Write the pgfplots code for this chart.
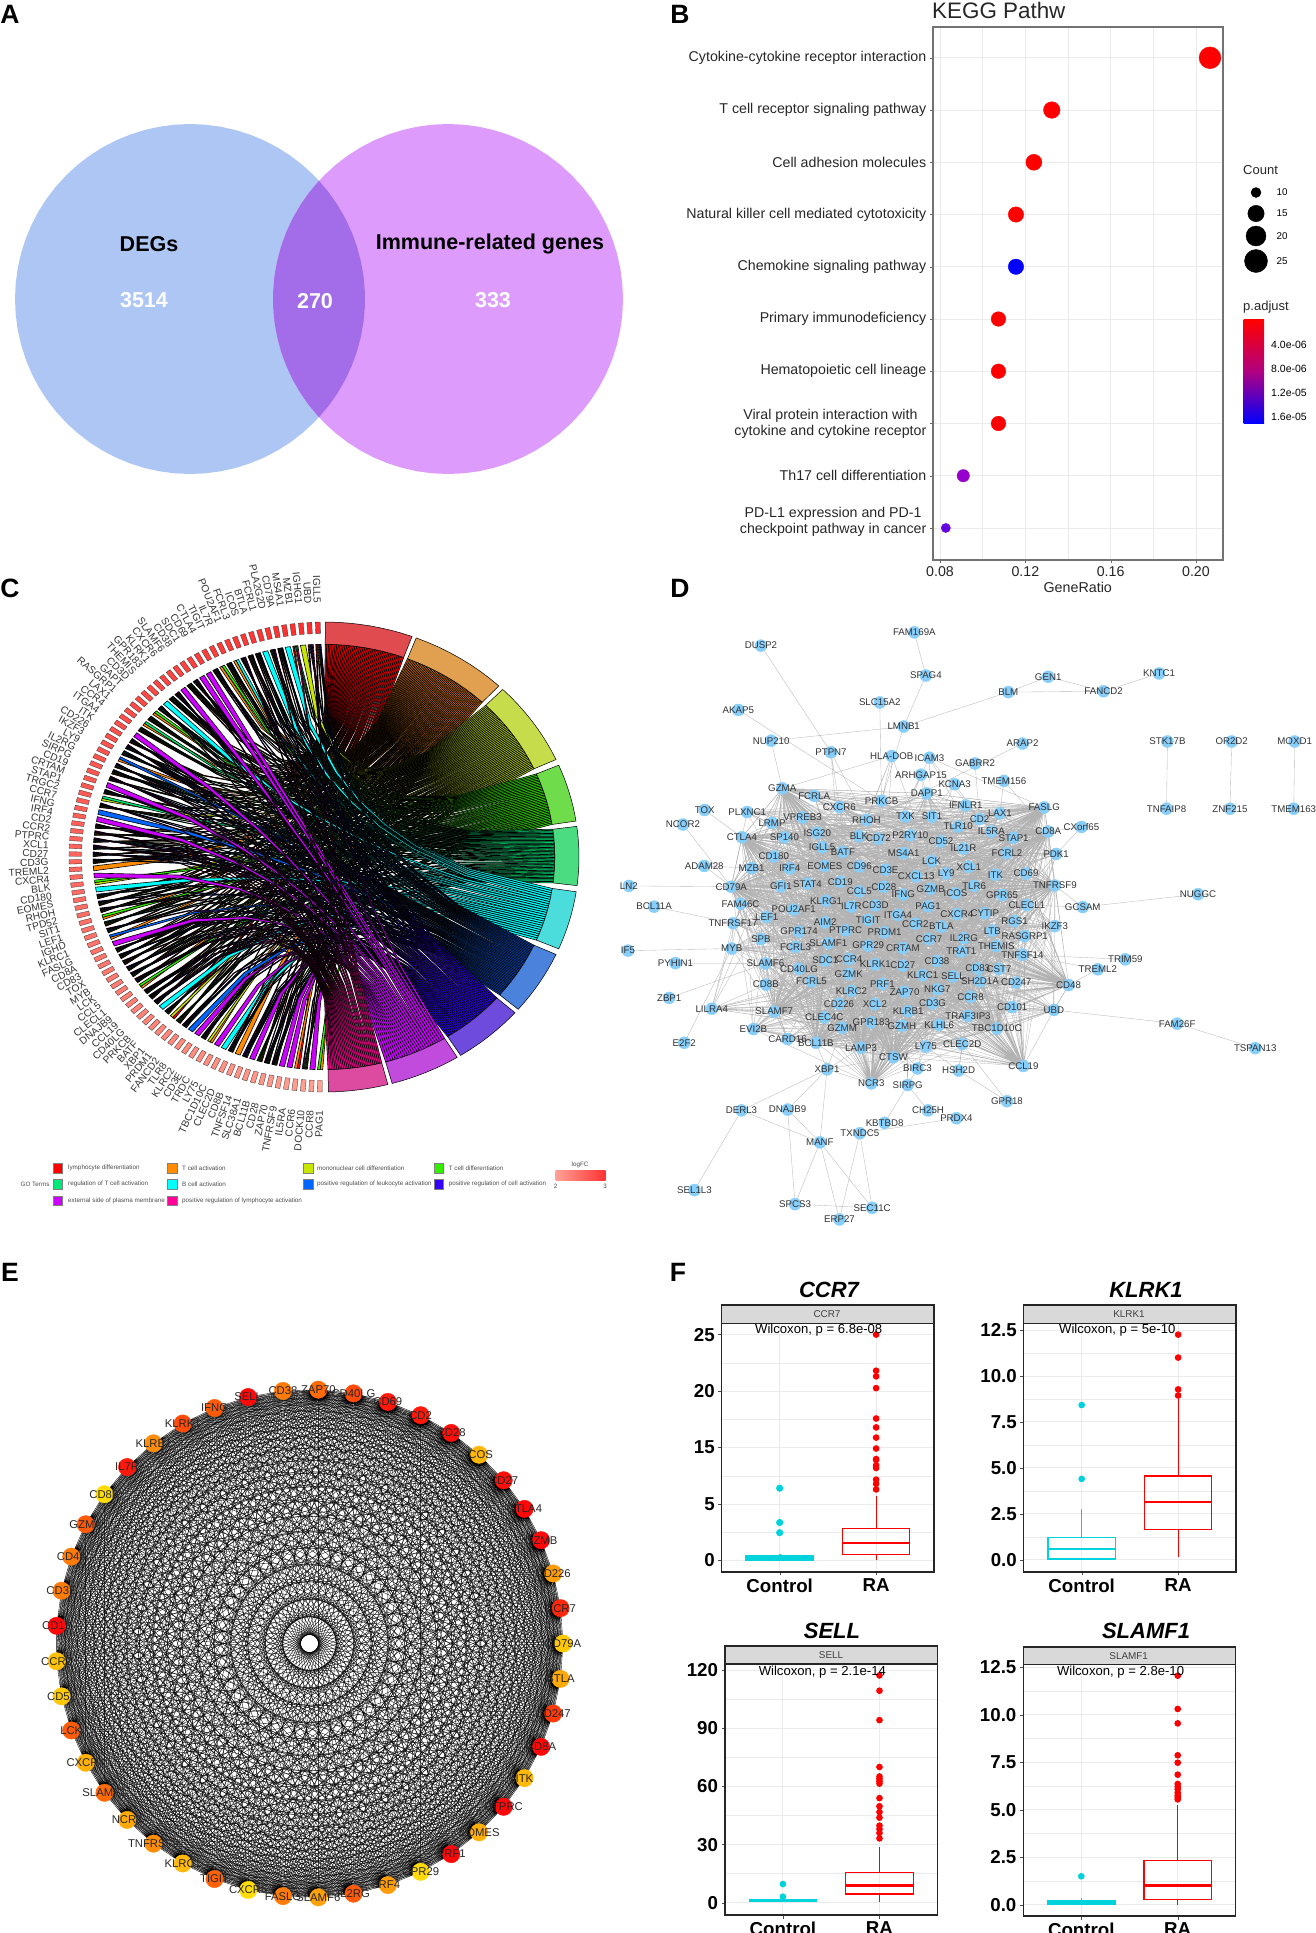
\documentclass[border=0pt]{standalone}
\usepackage{fontspec}
\setmainfont{Liberation Sans}
\usepackage{pgfplots}
\usepackage{pgfplotstable}
\pgfplotsset{compat=1.18}
\usepgfplotslibrary{statistics}

% panel C terms: ribbon colour and ring colour
\definecolor{tc1}{HTML}{FF0000}\definecolor{rc1}{HTML}{E04B4F}
\definecolor{tc2}{HTML}{FF8C00}\definecolor{rc2}{HTML}{E0A050}
\definecolor{tc3}{HTML}{C8E600}\definecolor{rc3}{HTML}{C6DC4B}
\definecolor{tc4}{HTML}{33EE00}\definecolor{rc4}{HTML}{6EDC4B}
\definecolor{tc5}{HTML}{00E87A}\definecolor{rc5}{HTML}{4BDC82}
\definecolor{tc6}{HTML}{00FFFF}\definecolor{rc6}{HTML}{4BDCDC}
\definecolor{tc7}{HTML}{0066FF}\definecolor{rc7}{HTML}{4B82DC}
\definecolor{tc8}{HTML}{3300FF}\definecolor{rc8}{HTML}{6E4BDC}
\definecolor{tc9}{HTML}{CC00FF}\definecolor{rc9}{HTML}{C04BDC}
\definecolor{tc10}{HTML}{FF0099}\definecolor{rc10}{HTML}{DC4BA0}
\definecolor{vennL}{HTML}{AEC6F4}
\definecolor{vennR}{HTML}{DD9CFB}
\definecolor{vennM}{HTML}{A36CE8}
\definecolor{netnode}{HTML}{87CEFA}
\definecolor{ggrid}{HTML}{EBEBEB}
\definecolor{ctrl}{HTML}{00D3DC}

\pgfplotstableread{
name
IGLL5
UBD
IGHG1
MZB1
MS4A1
CD79A
PLA2G2D
FCRL1
BTLA
ICOS
FCRL3
POU2AF1
IL7R
TIGIT
CTLA4
CD69
SDC1
CD38
SLAMF6
CXCR6
KLRK1
GPR183
THEMIS
CD3D
GAPT
RASGRP1
LAX1
CCR4
ITGA4
ITK
CD226
IKZF3
LY9
IL2RG
SIRPG
CD19
CRTAM
STAP1
TRGC2
CCR7
IFNG
IRF4
CD2
CCR2
PTPRC
XCL1
CD27
CD3G
TREML2
CXCR4
BLK
CD180
EOMES
RHOH
TPD52
SIT1
LEF1
IGHD
KLRC1
FASLG
CD8A
CD83
TOX
MYB
LCK
CCL5
CLECL1
DNAJB9
CCL19
CD40LG
PRKCB
BATF
XBP1
PRDM1
FANCD2
TLR8
KLRC2
CD3E
TRDC
LY75
TBC1D10C
CLEC2D
CD8B
TNFSF14
SLC38A1
BCL11B
CD28
ZAP70
TNFRSF9
IL5RA
CCR6
DOCK10
CCR8
PAG1
}\Cgenes

% panel E: gene, green channel of the node
\pgfplotstableread{
name g
ZAP70 105
CD40LG 75
CD69 25
CD2 25
CD28 15
ICOS 182
CD27 15
CTLA4 8
GZMB 8
CD226 155
CCR7 40
CD79A 200
BTLA 168
CD247 58
CD8A 8
ITK 184
PTPRC 8
EOMES 174
PRF1 8
GPR29 216
IRF4 155
IL2RG 90
SLAMF6 160
FASLG 122
CXCR6 220
TIGIT 96
KLRC1 184
TNFRSF9 140
NCR3 168
SLAMF1 106
CXCR4 176
LCK 90
CD52 200
CCR2 192
CD19 8
CD3E 122
CD48 122
GZMA 90
CD8B 220
IL7R 25
KLRB1 140
KLRK1 74
IFNG 90
SELL 8
CD38 122
}\Enodes

% panel D: node positions as read from the picture
\pgfplotstableread{
name zx zy
FAM169A 664 78
DUSP2 318 110
SPAG4 690 182
GEN1 966 185
KNTC1 1216 177
BLM 876 222
FANCD2 1091 220
SLC15A2 586 247
AKAP5 267 265
LMNB1 640 305
NUP210 341 339
ARAP2 908 346
STK17B 1235 341
OR2D2 1380 341
MOXD1 1522 341
PTPN7 476 367
HLA-DOB 613 376
ICAM3 698 380
GABRR2 801 394
ARHGAP15 679 421
TMEM156 866 436
KCNA3 755 444
GZMA 366 454
FCRLA 438 472
DAPP1 692 466
PRKCB 590 484
IFNLR1 780 495
FASLG 957 500
CXCR6 495 499
TNFAIP8 1233 503
ZNF215 1376 503
TMEM163 1520 503
TOX 191 506
PLXNC1 287 511
LAX1 857 514
TXK 644 522
SIT1 704 522
RHOH 556 530
VPREB3 412 524
CD2 811 528
LRMP 343 537
NCOR2 142 541
CXorf65 1041 547
TLR10 763 546
CD8A 966 558
IL5RA 838 558
ISG20 445 561
BLK 539 569
P2RY10 655 567
CD72 583 575
CTLA4 275 572
SP140 371 572
STAP1 888 573
CD52 724 582
IGLL5 456 596
IL21R 775 599
BATF 503 607
MS4A1 640 610
FCRL2 873 610
PDK1 984 612
CD180 347 618
LCK 703 629
ADAM28 190 641
MZB1 297 646
IRF4 383 647
EOMES 462 641
CD96 540 642
CD3E 599 650
XCL1 787 643
ITK 847 662
LY9 736 659
CD69 916 659
CXCL13 668 666
LN2 20 689
CD79A 251 691
GFI1 363 690
STAT4 423 684
CD19 497 679
CD28 595 691
TLR6 799 689
TNFRSF9 981 688
CCL5 540 702
GZMB 701 696
IFNG 639 710
ICOS 757 707
GPR65 862 711
NUGGC 1304 709
KLRG1 465 725
FAM46C 272 732
CD3D 576 736
IL7R 522 739
PAG1 695 738
CLECL1 918 735
GCSAM 1044 740
BCL11A 77 739
POU2AF1 392 746
CYTIP 823 755
CXCR4 760 757
ITGA4 627 759
LEF1 331 764
TIGIT 560 771
AIM2 463 777
TNFRSF17 255 779
CCR2 666 780
BTLA 725 787
RGS1 890 774
IKZF3 981 786
PTPRC 509 796
GPR174 404 799
PRDM1 597 801
LTB 840 797
RASGRP1 913 810
SPB 318 817
IL2RG 776 815
CCR7 697 817
SLAMF1 470 827
FCRL3 396 836
GPR29 560 833
THEMIS 849 834
CRTAM 638 839
MYB 252 840
IF5 18 845
TRAT1 770 847
TNFSF14 908 855
SDC1 463 869
CCR4 517 865
TRIM59 1140 866
KLRK1 576 878
CD38 715 870
SLAMF6 328 876
PYHIN1 125 875
CD27 638 881
CD83 807 888
CST7 855 889
TREML2 1078 890
CD40LG 404 889
GZMK 516 901
KLRC1 683 904
SELL 751 907
SH2D1A 812 919
CD247 894 922
PRF1 592 925
FCRL5 432 919
CD8B 329 927
CD48 1012 928
NKG7 716 938
ZAP70 642 944
KLRC2 522 942
ZBP1 111 959
CCR8 791 956
CD226 494 973
XCL2 575 974
CD3G 705 972
CD101 885 981
LILRA4 207 985
UBD 979 988
SLAMF7 348 992
KLRB1 650 991
TRAF3IP3 785 1002
CLEC4C 461 1006
GPR183 567 1018
FAM26F 1257 1021
KLHL6 720 1024
GZMH 636 1026
GZMM 501 1031
TBC1D10C 850 1033
EVI2B 301 1034
CARD16 378 1058
BCL11B 442 1067
E2F2 145 1067
CLEC2D 772 1070
LY75 690 1076
LAMP3 544 1079
TSPAN13 1433 1080
CTSW 617 1102
CCL19 910 1123
XBP1 467 1131
BIRC3 671 1129
HSH2D 764 1134
NCR3 567 1165
SIRPG 649 1169
GPR18 873 1208
DERL3 274 1230
DNAJB9 378 1228
CH25H 695 1230
PRDX4 759 1249
KBTBD8 597 1260
TXNDC5 541 1285
MANF 451 1307
SEL1L3 168 1422
SPCS3 395 1456
SEC11C 569 1465
ERP27 495 1493
}\Dnodes

% which terms each gene of panel C joins
\def\gm#1#2{\expandafter\def\csname gm#1\endcsname{#2}}
\gm{0}{1,2,3,7,8}\gm{1}{1,6,7,9,10}\gm{2}{3}\gm{3}{1,3,5,10}\gm{4}{6}\gm{5}{1,2,3,6,7,8}\gm{6}{2,4,7,8,10}\gm{7}{6}
\gm{8}{1,2,3,5,7,8}\gm{9}{1,2,3,4,5,7,8,10}\gm{10}{3,7,8,9,10}\gm{11}{2,6}\gm{12}{1,2,3,4,5,7}\gm{13}{2,4}\gm{14}{1,2,3,5,7,8}\gm{15}{9}
\gm{16}{9}\gm{17}{2,3,7,8,10}\gm{18}{1,2,3,4,5}\gm{19}{9}\gm{20}{1,7,8,9,10}\gm{21}{1,2,3,4,5}\gm{22}{6}\gm{23}{1,2,3,4,5,7,8,10}
\gm{24}{2,4}\gm{25}{1,2,3,4,5,6}\gm{26}{2,5}\gm{27}{1,2,3,4,5}\gm{28}{9}\gm{29}{1,2,4,5,7,8,10}\gm{30}{2,5,7,8,10}\gm{31}{1,3,5,6,7}
\gm{32}{2,7}\gm{33}{1,2,3,4,5,6,7,8,10}\gm{34}{1,2,3,5,7}\gm{35}{1,2,3,6,7,8,9,10}\gm{36}{9}\gm{37}{1,2,3,5,7,8}\gm{38}{3,5}\gm{39}{1,2,3,4,5,7,8,10}
\gm{40}{7}\gm{41}{9}\gm{42}{1,2,3,5,6,7,8,10}\gm{43}{1,3,4,9,10}\gm{44}{1,2,3,4,5,6,7,8,9,10}\gm{45}{2,5,7,8,10}\gm{46}{1,2,3,6,7,8,10}\gm{47}{1,2,3,4,5,7}
\gm{48}{2}\gm{49}{9}\gm{50}{3,4}\gm{51}{6}\gm{52}{1,2,3,4,7}\gm{53}{1,2,3,5,8}\gm{54}{1,2,4,7,10}\gm{55}{2,4}
\gm{56}{1,2,3,4,6}\gm{57}{1,3,5,6,9}\gm{58}{2,7}\gm{59}{9}\gm{60}{1,2,3,4,5,6,7,8,10}\gm{61}{1,2,3,6,7,8}\gm{62}{1,2,3,4,10}\gm{63}{1,3,4,6,9}
\gm{64}{1,2,3,4,5,6,7,8,10}\gm{65}{2,5,7,8,10}\gm{66}{2,4}\gm{67}{3,5,7,8,10}\gm{68}{1,2,3,7,8,10}\gm{69}{1,2,3,5,6,7,8,9,10}\gm{70}{6}\gm{71}{1,2,3,4,8}
\gm{72}{1,3}\gm{73}{1,2,3,4,5}\gm{74}{2,5,7,8,10}\gm{75}{7}\gm{76}{9}\gm{77}{1,2,3,4,5,7,8,10}\gm{78}{2,3}\gm{79}{9}
\gm{80}{6}\gm{81}{1,3,5,8,10}\gm{82}{2}\gm{83}{2,6,7,8,9}\gm{84}{9}\gm{85}{1,2,3,4,5}\gm{86}{1,2,3,4,5,7,8,10}\gm{87}{1,2,3,4,5,7,8,10}
\gm{88}{9}\gm{89}{9}\gm{90}{1,2}\gm{91}{1,2,3,5,9}\gm{92}{9}\gm{93}{2,4}

\newcount\tmpk \newcount\tmpj

% filled circle of the Venn diagram
\def\vennc#1#2{%
  \gdef\cc{}%
  \foreach \ang in {0,5,...,355}{%
    \pgfmathsetmacro\xx{#1+175*cos(\ang)}\pgfmathsetmacro\yy{299+175*sin(\ang)}%
    \xdef\cc{\cc(\xx,\yy)}}%
  \edef\tmp{\noexpand\addplot[draw=none,fill=#2] coordinates {\cc} --cycle;}\tmp}

% ring segment of a term, start and end angle clockwise from the top
\def\ringseg#1#2#3{%
  \gdef\cc{}%
  \foreach \f in {0,.125,...,1.01}{%
    \pgfmathsetmacro\th{#1+(#2-#1)*\f}%
    \pgfmathsetmacro\xx{324+255*sin(\th)}%
    \pgfmathsetmacro\yy{857-235*cos(\th)}%
    \xdef\cc{\cc(\xx,\yy)}}%
  \foreach \f in {1,.875,...,-.01}{%
    \pgfmathsetmacro\th{#1+(#2-#1)*\f}%
    \pgfmathsetmacro\xx{324+230.8*sin(\th)}%
    \pgfmathsetmacro\yy{857-212.7*cos(\th)}%
    \xdef\cc{\cc(\xx,\yy)}}%
  \edef\tmp{\noexpand\addplot[draw=black,line width=.5pt,fill=#3] coordinates {\cc} --cycle;}\tmp}

% one ribbon: gene, place in gene, ribbons of gene, term, place in term
\def\ribcore#1#2#3#4#5{%
  \pgfmathsetmacro\ga{358.6-1.91*#1-0.65+1.3*(#2-1)/#3}%
  \pgfmathsetmacro\gb{358.6-1.91*#1-0.65+1.3*#2/#3}%
  \pgfmathsetmacro\sa{\csname ts#4\endcsname+(\csname te#4\endcsname-\csname ts#4\endcsname)*(#5-1)/\csname tn#4\endcsname}%
  \pgfmathsetmacro\sb{\csname ts#4\endcsname+(\csname te#4\endcsname-\csname ts#4\endcsname)*#5/\csname tn#4\endcsname}%
  \pgfmathsetmacro\Ax{230.8*sin(\ga)}\pgfmathsetmacro\Ay{-212.7*cos(\ga)}%
  \pgfmathsetmacro\Bx{230.8*sin(\sb)}\pgfmathsetmacro\By{-212.7*cos(\sb)}%
  \pgfmathsetmacro\Cx{230.8*sin(\sa)}\pgfmathsetmacro\Cy{-212.7*cos(\sa)}%
  \pgfmathsetmacro\Dx{230.8*sin(\gb)}\pgfmathsetmacro\Dy{-212.7*cos(\gb)}%
  \gdef\cc{}%
  \foreach \uu/\vv in {1/0,.64/.04,.4225/.1225,.3025/.2025,.2025/.3025,.1225/.4225,.04/.64,0/1}{%
    \pgfmathsetmacro\xx{324+\uu*\Ax+\vv*\Bx}\pgfmathsetmacro\yy{857+\uu*\Ay+\vv*\By}%
    \xdef\cc{\cc(\xx,\yy)}}%
  \foreach \uu/\vv in {1/0,.64/.04,.4225/.1225,.3025/.2025,.2025/.3025,.1225/.4225,.04/.64,0/1}{%
    \pgfmathsetmacro\xx{324+\uu*\Cx+\vv*\Dx}\pgfmathsetmacro\yy{857+\uu*\Cy+\vv*\Dy}%
    \xdef\cc{\cc(\xx,\yy)}}%
  \edef\tmp{\noexpand\addplot[draw=black,line width=.6pt,fill=tc#4] coordinates {\cc} --cycle;}\tmp}
\def\drawrib#1#2{\expandafter\expandafter\expandafter\ribcore\csname rb#1.#2\endcsname{#1}{#2}}

% text at a picture position given in pixels from the top left
\newcommand\lbl[5]{\node[anchor=#3,inner sep=0pt,font=\fontsize{#4}{#4}\selectfont] at (#1pt,{(1933-#2)*1pt}) {#5};}
\newcommand\strip[4]{\draw[fill=black!15,draw=black!85,line width=1.3pt] (#1pt,{(1933-#3)*1pt}) rectangle (#2pt,{(1933-#4)*1pt});}

\pgfplotsset{
  canvas/.style={at={(0pt,0pt)},anchor=south west,scale only axis,width=1315pt,height=1933pt,
    xmin=0,xmax=1315,ymin=0,ymax=1933,y dir=reverse,hide axis,clip=false},
  gbox/.style={scale only axis,anchor=south west,xmin=0.4,xmax=2.6,xtick={1,2},xticklabels={Control,RA},
    axis line style={line width=1.3pt,black!85},tick align=outside,xtick pos=bottom,ytick pos=left,
    major tick length=3.5pt,tick style={black!70},minor tick length=0pt,minor y tick num=1,
    grid=both,major grid style={ggrid,line width=.9pt},minor grid style={ggrid,line width=.5pt},
    ticklabel style={font=\fontsize{18.7}{18.7}\selectfont\bfseries},
    boxplot/draw direction=y,boxplot/box extend=.7,boxplot/whisker extend=0,
    boxplot/every median/.style={line width=2.8pt}},
  ctrlbox/.style={color=ctrl,line width=1.2pt,mark=*,mark size=2.7pt,mark options={fill=ctrl,draw=ctrl,solid}},
  rabox/.style={color=red,line width=1.2pt,mark=*,mark size=2.7pt,mark options={fill=red,draw=red,solid}},
  namelabels/.style={only marks,mark size=0pt,
    point meta=explicit symbolic,nodes near coords,nodes near coords align={center}},
}

\begin{document}
\begin{tikzpicture}
\useasboundingbox (0,0) rectangle (1315pt,1933pt);

% ---- prepare panel C
\foreach \a/\b [count=\n] in {0.3/20.2,21.2/43.3,44.5/65.5,67/81.2,82.5/97,98.5/113,114.5/130.4,131.5/147.6,148.5/164.5,165.5/179}{%
  \expandafter\xdef\csname ts\n\endcsname{\a}%
  \expandafter\xdef\csname te\n\endcsname{\b}%
  \expandafter\xdef\csname tn\n\endcsname{0}}
\foreach \i in {0,...,93}{%
  \edef\lst{\csname gm\i\endcsname}%
  \global\tmpk=0 \foreach \tm in \lst {\global\advance\tmpk 1 }%
  \global\tmpj=0
  \foreach \tm in \lst {\global\advance\tmpj 1
    \pgfmathtruncatemacro\nn{\csname tn\tm\endcsname+1}%
    \expandafter\xdef\csname tn\tm\endcsname{\nn}%
    \expandafter\xdef\csname rb\tm.\nn\endcsname{{\i}{\the\tmpj}{\the\tmpk}}}}

% ---- prepare panel D: positions by name, list of the central nodes
\pgfplotstablegetrowsof{\Dnodes}\edef\Drows{\pgfplotsretval}
\gdef\Nc{0}
\pgfmathtruncatemacro\Dlast{\Drows-1}
\foreach \i in {0,...,\Dlast}{%
  \pgfplotstablegetelem{\i}{name}\of\Dnodes\edef\nm{\pgfplotsretval}%
  \pgfplotstablegetelem{\i}{zx}\of\Dnodes\edef\zx{\pgfplotsretval}%
  \pgfplotstablegetelem{\i}{zy}\of\Dnodes\edef\zy{\pgfplotsretval}%
  \pgfmathsetmacro\xx{620+\zx/2.256}\pgfmathsetmacro\yy{600+\zy/2.41}%
  \expandafter\xdef\csname dp\nm\endcsname{(\xx,\yy)}%
  \ifnum\zx>199 \ifnum\zx<1001 \ifnum\zy>449 \ifnum\zy<1110
    \pgfmathtruncatemacro\nc{\Nc+1}\xdef\Nc{\nc}%
    \expandafter\xdef\csname cn\nc\endcsname{(\xx,\yy)}%
  \fi\fi\fi\fi}

% ---- prepare panel E: node positions
\foreach \i in {0,...,44}{%
  \pgfmathsetmacro\xx{309.5+253.5*sin(2+8*\i)}\pgfmathsetmacro\yy{1643.5-254*cos(2+8*\i)}%
  \expandafter\xdef\csname ep\i\endcsname{(\xx,\yy)}}

\begin{axis}[canvas,colormap={fire}{rgb255(0cm)=(255,0,10); rgb255(1cm)=(255,220,10)},point meta min=0,point meta max=220]
% ---- A
\vennc{190}{vennL}
\vennc{448}{vennR}
\gdef\cc{}
\foreach \ang in {-42.5,-37.5,...,42.6}{%
  \pgfmathsetmacro\xx{190+175*cos(\ang)}\pgfmathsetmacro\yy{299+175*sin(\ang)}%
  \xdef\cc{\cc(\xx,\yy)}}
\foreach \ang in {137.5,142.5,...,222.6}{%
  \pgfmathsetmacro\xx{448+175*cos(\ang)}\pgfmathsetmacro\yy{299+175*sin(\ang)}%
  \xdef\cc{\cc(\xx,\yy)}}
\edef\tmp{\noexpand\addplot[draw=none,fill=vennM] coordinates {\cc} --cycle;}\tmp

% ---- C: ribbons, term by term
\foreach \tm in {1,...,10}{%
  \edef\cnt{\csname tn\tm\endcsname}%
  \foreach \n in {1,...,\cnt}{\drawrib{\tm}{\n}}}
\foreach \a/\b [count=\n] in {0.3/20.2,21.2/43.3,44.5/65.5,67/81.2,82.5/97,98.5/113,114.5/130.4,131.5/147.6,148.5/164.5,165.5/179}{%
  \ringseg{\a}{\b}{rc\n}}
% gene boxes on the ring
\foreach \i in {0,...,93}{%
  \pgfmathsetmacro\tha{358.6-1.91*\i-.55}\pgfmathsetmacro\thb{358.6-1.91*\i+.55}%
  \pgfmathtruncatemacro\cg{45+115*\i/93}\pgfmathtruncatemacro\cb{45+100*\i/93}%
  \pgfmathsetmacro\xa{324+255*sin(\tha)}\pgfmathsetmacro\ya{857-235*cos(\tha)}%
  \pgfmathsetmacro\xb{324+255*sin(\thb)}\pgfmathsetmacro\yb{857-235*cos(\thb)}%
  \pgfmathsetmacro\xc{324+242.5*sin(\thb)}\pgfmathsetmacro\yc{857-223.5*cos(\thb)}%
  \pgfmathsetmacro\xd{324+242.5*sin(\tha)}\pgfmathsetmacro\yd{857-223.5*cos(\tha)}%
  \edef\tmp{\noexpand\addplot[draw=black!80,line width=.3pt,fill={rgb,255:red,255;green,\cg;blue,\cb}] coordinates {(\xa,\ya)(\xb,\yb)(\xc,\yc)(\xd,\yd)} --cycle;}\tmp}
% gene names
\addplot[namelabels,
  visualization depends on={-88.6+1.91*\coordindex\as\rot},
  every node near coord/.style={anchor=east,inner sep=0pt,rotate=\rot,text=black!80,font=\fontsize{10.2}{10.2}\selectfont}]
  table[x index=0,y index=0,meta=name,x expr={324+275.4*sin(358.6-1.91*\coordindex)},y expr={857-253.8*cos(358.6-1.91*\coordindex)}] {\Cgenes};
% legend of C
\addplot[only marks,mark=square*,mark size=4.6pt,mark options={draw=black!50,line width=.2pt,fill=tc1}] coordinates {(57.5,1168)};
\addplot[only marks,mark=square*,mark size=4.6pt,mark options={draw=black!50,line width=.2pt,fill=tc2}] coordinates {(172,1168)};
\addplot[only marks,mark=square*,mark size=4.6pt,mark options={draw=black!50,line width=.2pt,fill=tc3}] coordinates {(308,1168)};
\addplot[only marks,mark=square*,mark size=4.6pt,mark options={draw=black!50,line width=.2pt,fill=tc4}] coordinates {(438.5,1168)};
\addplot[only marks,mark=square*,mark size=4.6pt,mark options={draw=black!50,line width=.2pt,fill=tc5}] coordinates {(57.5,1184)};
\addplot[only marks,mark=square*,mark size=4.6pt,mark options={draw=black!50,line width=.2pt,fill=tc6}] coordinates {(172,1184)};
\addplot[only marks,mark=square*,mark size=4.6pt,mark options={draw=black!50,line width=.2pt,fill=tc7}] coordinates {(308,1184)};
\addplot[only marks,mark=square*,mark size=4.6pt,mark options={draw=black!50,line width=.2pt,fill=tc8}] coordinates {(438.5,1184)};
\addplot[only marks,mark=square*,mark size=4.6pt,mark options={draw=black!50,line width=.2pt,fill=tc9}] coordinates {(57.5,1200.5)};
\addplot[only marks,mark=square*,mark size=4.6pt,mark options={draw=black!50,line width=.2pt,fill=tc10}] coordinates {(172,1200.5)};

% ---- D: mesh of the centre, hubs, then the visible single links
\pgfmathtruncatemacro\Ncm{\Nc}
\foreach \i in {1,...,\Ncm}{%
  \gdef\cc{}%
  \foreach \o in {2,3,5,9,14,18,23,30,37,46,58,70,83}{%
    \edef\j{\the\numexpr\i+\o\relax}%
    \ifnum\j>\Ncm\else
      \xdef\cc{\cc\csname cn\i\endcsname\csname cn\j\endcsname}%
    \fi}%
  \ifx\cc\empty\else
    \edef\tmp{\noexpand\addplot[draw=black!30,line width=.3pt] coordinates {\cc};}\tmp
  \fi}
\foreach \h in {GZMA,CTLA4,CD8A,FASLG,CD48,SLAMF7,CCL19,NCR3,CD79A,TNFRSF9,CTSW,LAMP3,BCL11B,TBC1D10C}{%
  \gdef\cc{}%
  \foreach \i in {1,3,...,\Ncm}{%
    \xdef\cc{\cc\csname dp\h\endcsname\csname cn\i\endcsname}}%
  \edef\tmp{\noexpand\addplot[draw=black!30,line width=.3pt] coordinates {\cc};}\tmp}
\gdef\cc{}
\foreach \a/\b in {FAM169A/SPAG4,SPAG4/LMNB1,SLC15A2/PRKCB,DUSP2/PTPN7,AKAP5/PRKCB,NUP210/LMNB1,NUP210/GZMA,LMNB1/BLM,LMNB1/PRKCB,
  BLM/GEN1,BLM/FANCD2,GEN1/FANCD2,FANCD2/KNTC1,ARAP2/RHOH,STK17B/TNFAIP8,OR2D2/ZNF215,MOXD1/TMEM163,
  HLA-DOB/PRKCB,HLA-DOB/GZMA,HLA-DOB/CD3E,HLA-DOB/LCK,HLA-DOB/CD19,HLA-DOB/RHOH,ICAM3/LCK,ICAM3/ITK,ICAM3/CD2,ICAM3/PTPRC,ICAM3/FASLG,
  ARHGAP15/PTPRC,ARHGAP15/CD3E,ARHGAP15/LCK,ARHGAP15/CD52,KCNA3/CD3E,KCNA3/IFNG,KCNA3/CD2,TMEM156/CD8A,TMEM156/LAX1,GABRR2/CD2,
  PTPN7/PTPRC,PTPN7/CXCR6,PTPN7/RHOH,TOX/CTLA4,NCOR2/CD79A,ADAM28/MZB1,ADAM28/CD79A,CXorf65/CD8A,CXorf65/PDK1,
  GCSAM/TNFRSF9,GCSAM/CLECL1,NUGGC/GCSAM,LN2/CD79A,BCL11A/TNFRSF17,IF5/MYB,PYHIN1/SLAMF6,ZBP1/SLAMF6,LILRA4/SLAMF7,E2F2/MYB,
  FAM26F/UBD,UBD/CD48,UBD/CD101,FAM26F/TSPAN13,TRIM59/TNFSF14,TREML2/CD48,TREML2/TNFSF14,
  XBP1/NCR3,XBP1/BCL11B,XBP1/GZMM,XBP1/CTSW,XBP1/LAMP3,DERL3/XBP1,DERL3/MANF,DERL3/SEL1L3,DNAJB9/XBP1,DNAJB9/MANF,DNAJB9/SPCS3,
  MANF/XBP1,MANF/SPCS3,MANF/ERP27,MANF/SEC11C,TXNDC5/ERP27,TXNDC5/SEC11C,TXNDC5/PRDX4,SPCS3/SEC11C,KBTBD8/SIRPG,
  SIRPG/BIRC3,SIRPG/CH25H,BIRC3/CTSW,BIRC3/KLRC2,BIRC3/LY75,BIRC3/CD3G,HSH2D/LY75,HSH2D/CLEC2D,HSH2D/CCR8,GPR18/HSH2D,GPR18/CLEC2D,
  SIRPG/KLRB1,SIRPG/ZAP70,CARD16/GZMM,CARD16/SLAMF7,EVI2B/SLAMF7}{%
  \xdef\cc{\cc\csname dp\a\endcsname\csname dp\b\endcsname(nan,nan)}}
\edef\tmp{\noexpand\addplot[draw=black!28,line width=.35pt,unbounded coords=jump] coordinates {\cc};}\tmp
\addplot[only marks,mark=*,mark size=6pt,mark options={draw=netnode,fill=netnode}]
  table[x expr={620+\thisrow{zx}/2.256},y expr={600+\thisrow{zy}/2.41}] {\Dnodes};
\addplot[namelabels,
  every node near coord/.style={anchor=center,inner sep=0pt,text=black!80,font=\fontsize{9.7}{9.7}\selectfont}]
  table[meta=name,x expr={620+\thisrow{zx}/2.256},y expr={600+\thisrow{zy}/2.41}] {\Dnodes};

% ---- E: every pair of the 45 nodes is linked
\foreach \i in {0,...,43}{%
  \gdef\cc{}%
  \pgfmathtruncatemacro\st{\i+1}%
  \foreach \j in {\st,...,44}{%
    \xdef\cc{\cc\csname ep\i\endcsname\csname ep\j\endcsname}}%
  \edef\tmp{\noexpand\addplot[draw=black,line width=.35pt] coordinates {\cc};}\tmp}
\addplot[scatter,only marks,mark=*,mark size=8.7pt,point meta=explicit,
  scatter/use mapped color={draw=mapped color,fill=mapped color}]
  table[meta=g,x expr={309.5+253.5*sin(2+8*\coordindex)},y expr={1643.5-254*cos(2+8*\coordindex)}] {\Enodes};
\addplot[namelabels,
  every node near coord/.style={anchor=center,inner sep=0pt,text=black!85,font=\fontsize{11.3}{11.3}\selectfont}]
  table[meta=name,x expr={309.5+253.5*sin(2+8*\coordindex)},y expr={1643.5-254*cos(2+8*\coordindex)}] {\Enodes};

% ---- legend marks of B
\addplot[only marks,mark=*,mark size=5pt,black] coordinates {(1256,192.5)};
\addplot[only marks,mark=*,mark size=8.2pt,black] coordinates {(1256,213.5)};
\addplot[only marks,mark=*,mark size=10pt,black] coordinates {(1256,236)};
\addplot[only marks,mark=*,mark size=11.5pt,black] coordinates {(1256,261)};
\end{axis}

% ---- B
\begin{axis}[at={(933pt,1373pt)},anchor=south west,scale only axis,width=290pt,height=533pt,
  xmin=0.0767,xmax=0.2127,ymin=0.387,ymax=10.59,
  xtick={0.08,0.12,0.16,0.20},xticklabels={0.08,0.12,0.16,0.20},minor x tick num=1,
  ytick={1,...,10},
  yticklabels={{PD-L1 expression and PD-1\\checkpoint pathway in cancer\\~},Th17 cell differentiation,
    {Viral protein interaction with\\cytokine and cytokine receptor},Hematopoietic cell lineage,Primary immunodeficiency,
    Chemokine signaling pathway,Natural killer cell mediated cytotoxicity,Cell adhesion molecules,
    T cell receptor signaling pathway,Cytokine-cytokine receptor interaction},
  yticklabel style={align=center,font=\fontsize{14.2}{16}\selectfont,text=black!85},
  xticklabel style={font=\fontsize{14.2}{14.2}\selectfont,text=black!85},
  axis line style={line width=1.2pt,black!55},tick align=outside,xtick pos=bottom,ytick pos=left,
  major tick length=3.2pt,minor tick length=0pt,tick style={black!60},
  grid=both,major grid style={ggrid,line width=.8pt},minor grid style={ggrid,line width=.5pt}]
\addplot[only marks,mark=*,mark size=10.9pt,red] coordinates {(0.2066,10)};
\addplot[only marks,mark=*,mark size=8.3pt,red] coordinates {(0.1324,9)};
\addplot[only marks,mark=*,mark size=8pt,red] coordinates {(0.1240,8)};
\addplot[only marks,mark=*,mark size=7.7pt,red] coordinates {(0.1156,7)};
\addplot[only marks,mark=*,mark size=7.7pt,color={rgb,255:red,0;green,0;blue,255}] coordinates {(0.1156,6)};
\addplot[only marks,mark=*,mark size=7.3pt,red] coordinates {(0.1074,5) (0.1074,4) (0.1074,3)};
\addplot[only marks,mark=*,mark size=6.2pt,color={rgb,255:red,150;green,0;blue,205}] coordinates {(0.0909,2)};
\addplot[only marks,mark=*,mark size=4.6pt,color={rgb,255:red,100;green,0;blue,225}] coordinates {(0.0827,1)};
\end{axis}

% ---- F
\begin{axis}[gbox,at={(721.8pt,361pt)},width=212.2pt,height=248.6pt,ymin=-1.02,ymax=20.99,
  ytick={0,5,10,15,20},yticklabels={0,5,15,20,25}]
\addplot[ctrlbox,line width=1.7pt,boxplot/every median/.style={line width=3.6pt},boxplot prepared={draw position=1,lower whisker=0.03,lower quartile=0.03,median=0.2,upper quartile=0.41,upper whisker=0.53}]
  coordinates {(1,6.4) (1,3.36) (1,2.46)};
\addplot[rabox,boxplot prepared={draw position=2,lower whisker=0.06,lower quartile=0.5,median=1.55,upper quartile=2.84,upper whisker=5.73}]
  coordinates {(2,20.0) (2,16.8) (2,16.3) (2,15.26) (2,12.57) (2,11.78) (2,10.88) (2,9.91) (2,8.98) (2,8.9) (2,8.42) (2,8.19) (2,7.16) (2,6.78) (2,6.29)};
\end{axis}
\begin{axis}[gbox,at={(1023.8pt,361pt)},width=212.2pt,height=248.6pt,ymin=-0.664,ymax=12.86,
  ytick={0,2.5,5,7.5,10,12.5},yticklabels={0.0,2.5,5.0,7.5,10.0,12.5}]
\addplot[ctrlbox,boxplot prepared={draw position=1,lower whisker=0.04,lower quartile=0.04,median=0.59,upper quartile=1.22,upper whisker=2.75}]
  coordinates {(1,8.42) (1,4.4)};
\addplot[rabox,boxplot prepared={draw position=2,lower whisker=0.14,lower quartile=1.63,median=3.14,upper quartile=4.56,upper whisker=8.85}]
  coordinates {(2,12.25) (2,11.0) (2,9.27) (2,8.94)};
\end{axis}
\begin{axis}[gbox,at={(725pt,18pt)},width=212.4pt,height=251pt,ymin=-6.37,ymax=123.3,
  ytick={0,30,60,90,120},yticklabels={0,30,60,90,120}]
\addplot[ctrlbox,boxplot prepared={draw position=1,lower whisker=0.5,lower quartile=0.5,median=0.9,upper quartile=1.5,upper whisker=1.7}]
  coordinates {(1,9.6) (1,3.1)};
\addplot[rabox,boxplot prepared={draw position=2,lower whisker=0.5,lower quartile=4.5,median=9,upper quartile=15.5,upper whisker=28.8}]
  coordinates {(2,117.4) (2,109.5) (2,94.3) (2,70.1) (2,65.2) (2,63.9) (2,62.7) (2,61.5) (2,54) (2,49.8) (2,46.8) (2,43.9) (2,39.8) (2,38) (2,36) (2,33.2)};
\end{axis}
\begin{axis}[gbox,at={(1023.4pt,17pt)},width=212.2pt,height=251.7pt,ymin=-0.6,ymax=12.65,
  ytick={0,2.5,5,7.5,10,12.5},yticklabels={0.0,2.5,5.0,7.5,10.0,12.5}]
\addplot[ctrlbox,boxplot prepared={draw position=1,lower whisker=0,lower quartile=0,median=0.1,upper quartile=0.19,upper whisker=0.37}]
  coordinates {(1,1.49)};
\addplot[rabox,boxplot prepared={draw position=2,lower whisker=0,lower quartile=0.25,median=1.02,upper quartile=2.33,upper whisker=5.23}]
  coordinates {(2,12.05) (2,10.3) (2,9.54) (2,7.86) (2,7.47) (2,6.84) (2,6.35) (2,6.2) (2,6.07) (2,5.89) (2,5.75) (2,5.65) (2,5.54)};
\end{axis}

\strip{721.8}{934}{1305}{1323.4}
\strip{1023.8}{1236}{1305}{1323.4}
\strip{725}{937.4}{1646}{1664}
\strip{1023.4}{1235.6}{1647}{1664.3}

% ---- texts
\lbl{10}{14}{center}{26.5}{\bfseries A}
\lbl{680}{14}{center}{26.5}{\bfseries B}
\lbl{10}{588}{center}{26.5}{\bfseries C}
\lbl{680}{588}{center}{26.5}{\bfseries D}
\lbl{10}{1272}{center}{26.5}{\bfseries E}
\lbl{678}{1272}{center}{26.5}{\bfseries F}

\lbl{149}{244}{center}{21.5}{\bfseries DEGs}
\lbl{490}{244}{center}{21.5}{\bfseries Immune-related genes}
\lbl{144}{300}{center}{21.5}{\bfseries\textcolor{white}{3514}}
\lbl{315}{301}{center}{21.5}{\bfseries\textcolor{white}{270}}
\lbl{493}{300}{center}{21.5}{\bfseries\textcolor{white}{333}}

\lbl{932}{11}{west}{22.4}{\textcolor{black!85}{KEGG Pathw}}
\lbl{1077.7}{587}{center}{14.3}{\textcolor{black!85}{GeneRatio}}
\lbl{1243}{170}{west}{13}{\textcolor{black!85}{Count}}
\lbl{1282}{192.5}{center}{9.8}{10}
\lbl{1282}{213.5}{center}{9.8}{15}
\lbl{1282}{236}{center}{9.8}{20}
\lbl{1282}{261}{center}{9.8}{25}
\lbl{1243}{307}{west}{13}{\textcolor{black!85}{p.adjust}}
\shade[top color=red,bottom color=blue,middle color={rgb,255:red,175;green,0;blue,130}] (1243.5pt,{(1933-320)*1pt}) rectangle (1264pt,{(1933-424)*1pt});
\lbl{1271}{344.5}{west}{10.5}{4.0e-06}
\lbl{1271}{369}{west}{10.5}{8.0e-06}
\lbl{1271}{393}{west}{10.5}{1.2e-05}
\lbl{1271}{417}{west}{10.5}{1.6e-05}

\lbl{20.5}{1184}{west}{6.3}{\textcolor{black!70}{GO Terms}}
\lbl{68}{1168}{west}{6.3}{\textcolor{black!70}{lymphocyte differentiation}}
\lbl{182}{1168}{west}{6.3}{\textcolor{black!70}{T cell activation}}
\lbl{317}{1168}{west}{6.3}{\textcolor{black!70}{mononuclear cell differentiation}}
\lbl{448.6}{1168}{west}{6.3}{\textcolor{black!70}{T cell differentiation}}
\lbl{68}{1184}{west}{6.3}{\textcolor{black!70}{regulation of T cell activation}}
\lbl{182}{1184}{west}{6.3}{\textcolor{black!70}{B cell activation}}
\lbl{317}{1184}{west}{6.3}{\textcolor{black!70}{positive regulation of leukocyte activation}}
\lbl{448.6}{1184}{west}{6.3}{\textcolor{black!70}{positive regulation of cell activation}}
\lbl{68}{1200.5}{west}{6.3}{\textcolor{black!70}{external side of plasma membrane}}
\lbl{182}{1200.5}{west}{6.3}{\textcolor{black!70}{positive regulation of lymphocyte activation}}
\lbl{580}{1165}{center}{6.3}{\textcolor{black!70}{logFC}}
\shade[left color={rgb,255:red,255;green,160;blue,150},right color={rgb,255:red,255;green,50;blue,50}] (555.7pt,{(1933-1171)*1pt}) rectangle (605.5pt,{(1933-1181)*1pt});
\lbl{555.7}{1186.5}{center}{6.3}{\textcolor{black!70}{2}}
\lbl{605}{1186.5}{center}{6.3}{\textcolor{black!70}{3}}

\lbl{829}{1290}{center}{22}{\bfseries\itshape CCR7}
\lbl{1146}{1290}{center}{22}{\bfseries\itshape KLRK1}
\lbl{832}{1631}{center}{22}{\bfseries\itshape SELL}
\lbl{1146}{1631}{center}{22}{\bfseries\itshape SLAMF1}
\lbl{827}{1314.5}{center}{9.9}{\textcolor{black!75}{CCR7}}
\lbl{1129}{1314.5}{center}{9.9}{\textcolor{black!75}{KLRK1}}
\lbl{831}{1655.5}{center}{9.9}{\textcolor{black!75}{SELL}}
\lbl{1128.7}{1656}{center}{9.9}{\textcolor{black!75}{SLAMF1}}
\lbl{755}{1330.6}{west}{13.1}{Wilcoxon, p = 6.8e-08}
\lbl{1059}{1330.3}{west}{13.1}{Wilcoxon, p = 5e-10}
\lbl{758.6}{1671.7}{west}{13.1}{Wilcoxon, p = 2.1e-14}
\lbl{1056.8}{1671.7}{west}{13.1}{Wilcoxon, p = 2.8e-10}
\end{tikzpicture}
\end{document}
